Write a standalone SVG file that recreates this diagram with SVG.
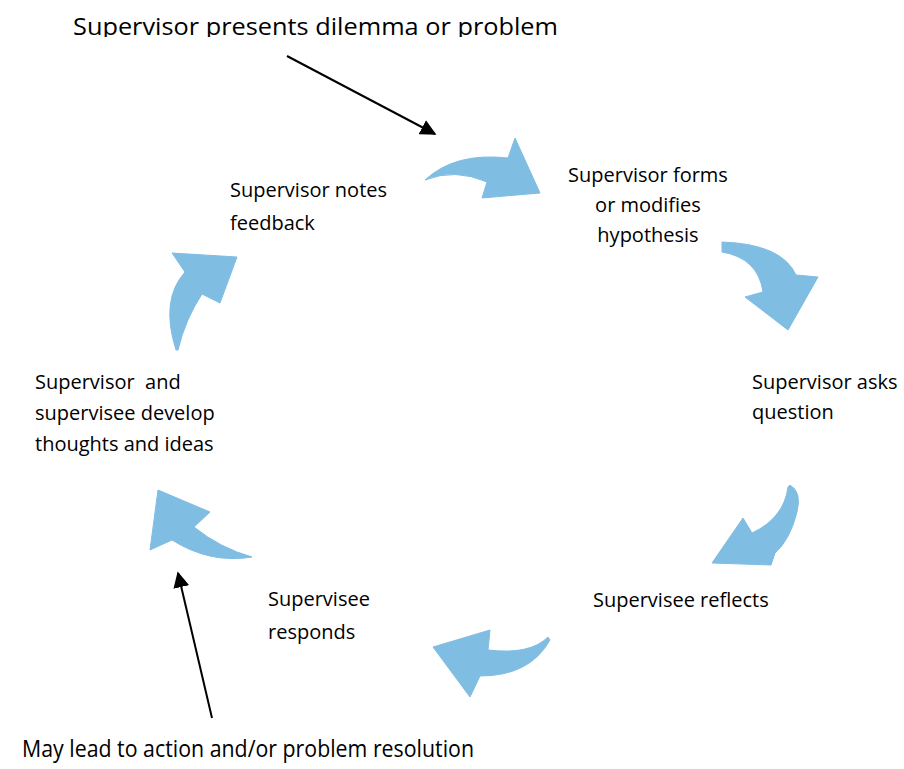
<svg xmlns="http://www.w3.org/2000/svg" width="904" height="769" viewBox="0 0 904 769">
<style>
  .lbl { font-family: "Open Sans", "Liberation Sans", sans-serif; font-size: 20px; fill: #000; }
  .big { font-family: "Open Sans", "Liberation Sans", sans-serif; font-size: 24px; fill: #000; }
  .cyc { fill: #80BDE3; stroke: #80BDE3; stroke-width: 1; stroke-linejoin: round; }
  .pointer { stroke: #000; stroke-width: 2; fill: none; }
</style>
<defs>
  <marker id="tri2" viewBox="0 0 10 10" refX="9" refY="5" markerWidth="16" markerHeight="16" markerUnits="userSpaceOnUse" orient="auto">
    <path d="M0,0 L10,5 L0,10 Z" fill="#000"/>
  </marker>
  <clipPath id="topclip"><rect x="0" y="0" width="904" height="37"/></clipPath>
</defs>

<g id="connectors">
  <path class="cyc" d="M425,180 Q455,152 508,158 L515,138 L540,193 L482,198 L487,182 Q455,168 425,180 Z"/>
  <path class="cyc" d="M722,242 Q782,244 796,275 L818,277 L788,330 L745,297 L763,292 Q758,258 722,252 Z"/>
  <path class="cyc" d="M790,485 Q802,492 797,512 Q790,540 775,553 L771,565 L712,563 L743,518 L752,533 Q784,518 788,487 Z"/>
  <path class="cyc" d="M548,637 Q530,655 488,650 L490,630 L433,647 L470,697 L480,676 Q530,676 550,640 Z"/>
  <path class="cyc" d="M158,490 L210,512 L194,527 Q220,548 252,557 Q210,564 172,540 L150,550 Z"/>
  <path class="cyc" d="M176,350 Q160,300 185,272 L172,253 L237,257 L220,303 L202,294 Q185,320 178,350 Z"/>
  <path class="pointer" d="M287,56 L435,134" marker-end="url(#tri2)"/>
  <path class="pointer" d="M212,718 L178,573" marker-end="url(#tri2)"/>
</g>

<g id="title">
  <text class="big" x="73" y="35" textLength="485" lengthAdjust="spacingAndGlyphs" clip-path="url(#topclip)">Supervisor presents dilemma or problem</text>
</g>
<g id="outcome">
  <text class="big" x="22" y="757" textLength="452" lengthAdjust="spacingAndGlyphs">May lead to action and/or problem resolution</text>
</g>
<g id="n-notes">
  <text class="lbl" x="230" y="197">Supervisor notes</text>
  <text class="lbl" x="230" y="230">feedback</text>
</g>
<g id="n-forms">
  <text class="lbl" x="648" y="182" text-anchor="middle">Supervisor forms</text>
  <text class="lbl" x="648" y="212" text-anchor="middle">or modifies</text>
  <text class="lbl" x="648" y="242" text-anchor="middle">hypothesis</text>
</g>
<g id="n-asks">
  <text class="lbl" x="752" y="389">Supervisor asks</text>
  <text class="lbl" x="752" y="419">question</text>
</g>
<g id="n-reflects">
  <text class="lbl" x="593" y="607">Supervisee reflects</text>
</g>
<g id="n-responds">
  <text class="lbl" x="268" y="606">Supervisee</text>
  <text class="lbl" x="268" y="639">responds</text>
</g>
<g id="n-develop">
  <text class="lbl" x="35" y="389" xml:space="preserve">Supervisor  and</text>
  <text class="lbl" x="35" y="420">supervisee develop</text>
  <text class="lbl" x="35" y="451">thoughts and ideas</text>
</g>
</svg>
